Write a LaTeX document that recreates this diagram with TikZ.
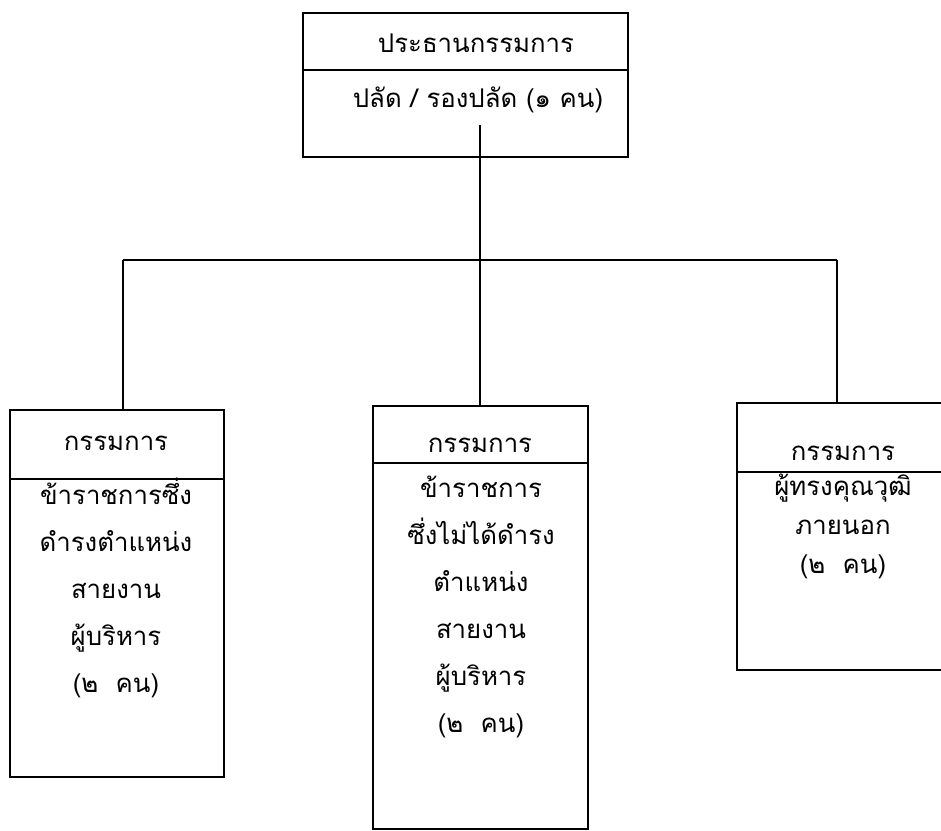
\documentclass[tikz,border=0pt]{standalone}
\usepackage{fontspec}
\newfontfamily\thaifont[Script=Thai]{Loma}
\tikzset{
  box/.style={draw, line width=1.2pt, inner sep=0pt, rectangle},
  divider/.style={line width=1.1pt},
  conn/.style={line width=1.3pt},
  ttl/.style={font=\thaifont\fontsize{22}{26}\selectfont, inner sep=0pt},
  body/.style={font=\thaifont\fontsize{22}{40}\selectfont, align=center, inner sep=0pt},
}
\begin{document}
\begin{tikzpicture}[x=0.03cm, y=-0.03cm]
\useasboundingbox (0,0) rectangle (941,830);
\clip (0,0) rectangle (941,830);
% boxes
\node[box, minimum width=9.75cm, minimum height=4.32cm] (top) at (465.5,85) {};
\node[box, minimum width=6.42cm, minimum height=11.01cm] (left) at (117,593.5) {};
\node[box, minimum width=6.45cm, minimum height=12.69cm] (mid) at (480.5,617.5) {};
\node[box, minimum width=6.69cm, minimum height=8.01cm] (right) at (848.5,536.5) {};
% dividers
\coordinate (tdl) at (303,70); \coordinate (tdr) at (628,70);
\draw[divider] (tdl) -- (tdr);
\coordinate (ldl) at (10,479); \coordinate (ldr) at (224,479);
\draw[divider] (ldl) -- (ldr);
\coordinate (mdl) at (373,463); \coordinate (mdr) at (588,463);
\draw[divider] (mdl) -- (mdr);
\coordinate (rdl) at (737,472); \coordinate (rdr) at (960,472);
\draw[divider] (rdl) -- (rdr);
% texts
\node[ttl] (t1) at (476,43) {ประธานกรรมการ};
\node[ttl] (t2) at (478,100) {ปลัด / รองปลัด (๑ คน)};
\node[ttl] (l1) at (116,443) {กรรมการ};
\node[body, anchor=north] (l2) at (116,478) {ข้าราชการซึ่ง\\ดำรงตำแหน่ง\\สายงาน\\ผู้บริหาร\\(๒~~คน)};
\node[ttl] (m1) at (480,445) {กรรมการ};
\node[body, anchor=north] (m2) at (481,476) {ข้าราชการ\\ซึ่งไม่ได้ดำรง\\ตำแหน่ง\\สายงาน\\ผู้บริหาร\\(๒~~คน)};
\node[ttl] (r1) at (843,453) {กรรมการ};
\node[body, font=\thaifont\fontsize{22}{33}\selectfont, anchor=north] (r2) at (843,474) {ผู้ทรงคุณวุฒิ\\ภายนอก\\(๒~~คน)};
% connectors
\coordinate (t0) at (480,125);
\coordinate (j) at (480,260);
\coordinate (jl) at (123,260);
\coordinate (jr) at (837,260);
\draw[conn] (t0) -- (j);
\draw[conn] (jl) -- (jr);
\draw[conn] (jl) -- (jl |- left.north);
\draw[conn] (j) -- (j |- mid.north);
\draw[conn] (jr) -- (jr |- right.north);
\end{tikzpicture}
\end{document}
